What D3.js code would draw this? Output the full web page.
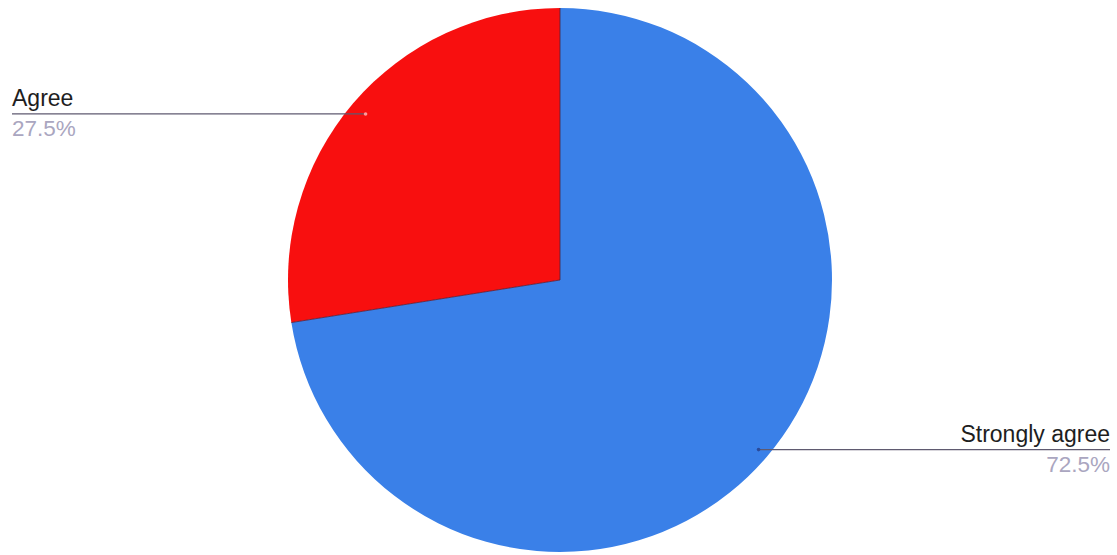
<!DOCTYPE html>
<html>
<head>
<meta charset="utf-8">
<script src="https://cdn.jsdelivr.net/npm/d3@7"></script>
<style>
  html, body { margin: 0; padding: 0; background: #ffffff; }
  svg { display: block; }
</style>
</head>
<body>
<svg id="chart" width="1117" height="555"></svg>
<script>
const categories = ["Strongly agree", "Agree"];
const values = [72.5, 27.5];
const percentLabels = ["72.5%", "27.5%"];
const colors = ["#3a80e8", "#f80f0f"];

const W = 1117, H = 555;
const cx = 560, cy = 280, R = 272;
const svg = d3.select("#chart");

const pie = d3.pie().sort(null).value(d => d.v).startAngle(0).endAngle(2 * Math.PI);
const data = categories.map((c, i) => ({ c, v: values[i], p: percentLabels[i], col: colors[i] }));
const arcs = pie(data);
const arc = d3.arc().innerRadius(0).outerRadius(R);

const g = svg.append("g").attr("transform", `translate(${cx},${cy})`);
g.selectAll("path.slice").data(arcs).enter().append("path")
  .attr("class", "slice")
  .attr("d", arc)
  .attr("fill", d => d.data.col);

// slice boundaries (dark thin lines)
arcs.forEach(a => {
  const p = d3.pointRadial(a.startAngle, R);
  g.append("line").attr("x1", 0).attr("y1", 0).attr("x2", p[0]).attr("y2", p[1])
    .attr("stroke", "#4a2040").attr("stroke-width", 1).attr("stroke-opacity", 0.8);
});

// labels
const anchorRatio = [0.96, 0.94];
const dotColors = ["#2a4a9a", "#ff9a9a"];
arcs.forEach((a, i) => {
  const mid = (a.startAngle + a.endAngle) / 2;
  const pt = d3.pointRadial(mid, R * anchorRatio[i]);
  const ax = cx + pt[0], ay = cy + pt[1];
  const right = pt[0] > 0;
  const tx = right ? 1110 : 12;
  const edgeDx = Math.sqrt(R * R - (ay - cy) * (ay - cy));
  const ex = right ? ax : Math.max(ax, cx - edgeDx);
  svg.append("line")
    .attr("x1", ex).attr("y1", ay).attr("x2", tx).attr("y2", ay)
    .attr("stroke", "#5f5a70").attr("stroke-width", 1.3);
  svg.append("circle").attr("cx", ax).attr("cy", ay).attr("r", 1.8).attr("fill", dotColors[i]);
  svg.append("text")
    .attr("x", tx).attr("y", ay - 7.5)
    .attr("text-anchor", right ? "end" : "start")
    .attr("font-family", "Liberation Sans, Arial, sans-serif")
    .attr("font-size", 23)
    .attr("fill", "#1e1e1e")
    .text(a.data.c);
  svg.append("text")
    .attr("x", tx).attr("y", ay + 22.5)
    .attr("text-anchor", right ? "end" : "start")
    .attr("font-family", "Liberation Sans, Arial, sans-serif")
    .attr("font-size", 22.5)
    .attr("fill", "#aaa6c0")
    .text(a.data.p);
});
</script>
</body>
</html>
